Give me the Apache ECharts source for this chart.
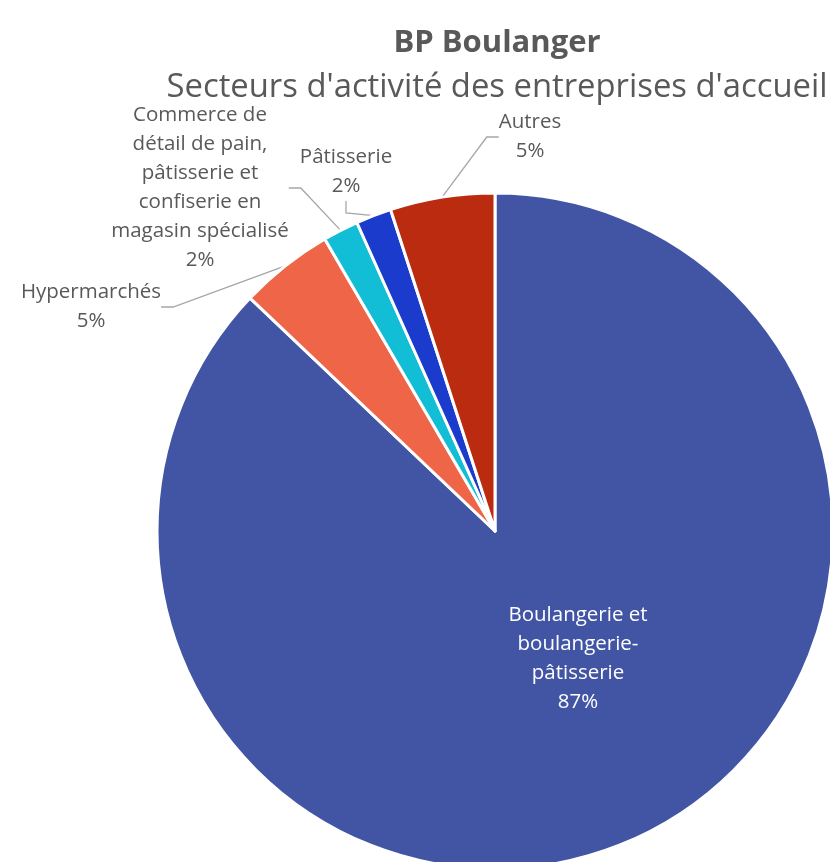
<!DOCTYPE html>
<html>
<head>
<meta charset="utf-8">
<script src="https://cdn.jsdelivr.net/npm/echarts@6/dist/echarts.min.js"></script>
<style>
  html, body { margin: 0; padding: 0; background: #fff; }
  #chart { width: 830px; height: 862px; }
</style>
</head>
<body>
<div id="chart"></div>
<script>
// secteurs d'activité (ordre horaire depuis midi)
var sectors = [
    "Boulangerie et\nboulangerie-\npâtisserie",
    "Hypermarchés",
    "Commerce de\ndétail de pain,\npâtisserie et\nconfiserie en\nmagasin spécialisé",
    "Pâtisserie",
    "Autres"
];
var shares = [87.1, 4.5, 1.7, 1.7, 5.0];
var colors = ["#4155A4", "#EE6548", "#12BED6", "#1B3BCD", "#BA2B10"];

// où Excel a posé les étiquettes (centre du bloc de texte)
var labelPos = [[578, 659], [91, 307], [200, 188], [346, 172], [530, 137]];

var font = "Open Sans";
var chart = echarts.init(document.getElementById('chart'));

var pieData = [];
for (var i = 0; i < sectors.length; i++) {
    var item = {
        name: sectors[i],
        value: shares[i],
        itemStyle: { color: colors[i] }
    };
    if (i === 0) {
        item.label = { position: 'inside', color: '#ffffff' };
        item.labelLine = { show: false };
    }
    pieData.push(item);
}

chart.setOption({
    animation: false,
    title: [
        {
            text: 'BP Boulanger',
            left: 492,
            top: 23,
            textAlign: 'center',
            textStyle: { fontFamily: font, fontSize: 31, fontWeight: 'bold', color: '#595959' }
        },
        {
            text: "Secteurs d'activité des entreprises d'accueil",
            left: 492,
            top: 66,
            textAlign: 'center',
            textStyle: { fontFamily: font, fontSize: 32.8, fontWeight: 'normal', color: '#595959' }
        }
    ],
    series: [
        {
            type: 'pie',
            center: [495, 531],
            radius: 338,
            startAngle: 90,
            clockwise: true,
            avoidLabelOverlap: false,
            itemStyle: { borderColor: '#ffffff', borderWidth: 3 },
            label: {
                show: true,
                fontFamily: font,
                fontSize: 20.5,
                lineHeight: 29,
                color: '#595959',
                formatter: function (p) {
                    return p.name + '\n' + Math.round(p.percent) + '%';
                }
            },
            labelLine: {
                show: true,
                length: 10,
                length2: 12,
                lineStyle: { color: '#A6A6A6', width: 1.3 }
            },
            labelLayout: function (params) {
                var pos = labelPos[params.dataIndex];
                return {
                    x: pos[0],
                    y: pos[1],
                    align: 'center',
                    verticalAlign: 'middle'
                };
            },
            data: pieData
        }
    ]
});
</script>
</body>
</html>
